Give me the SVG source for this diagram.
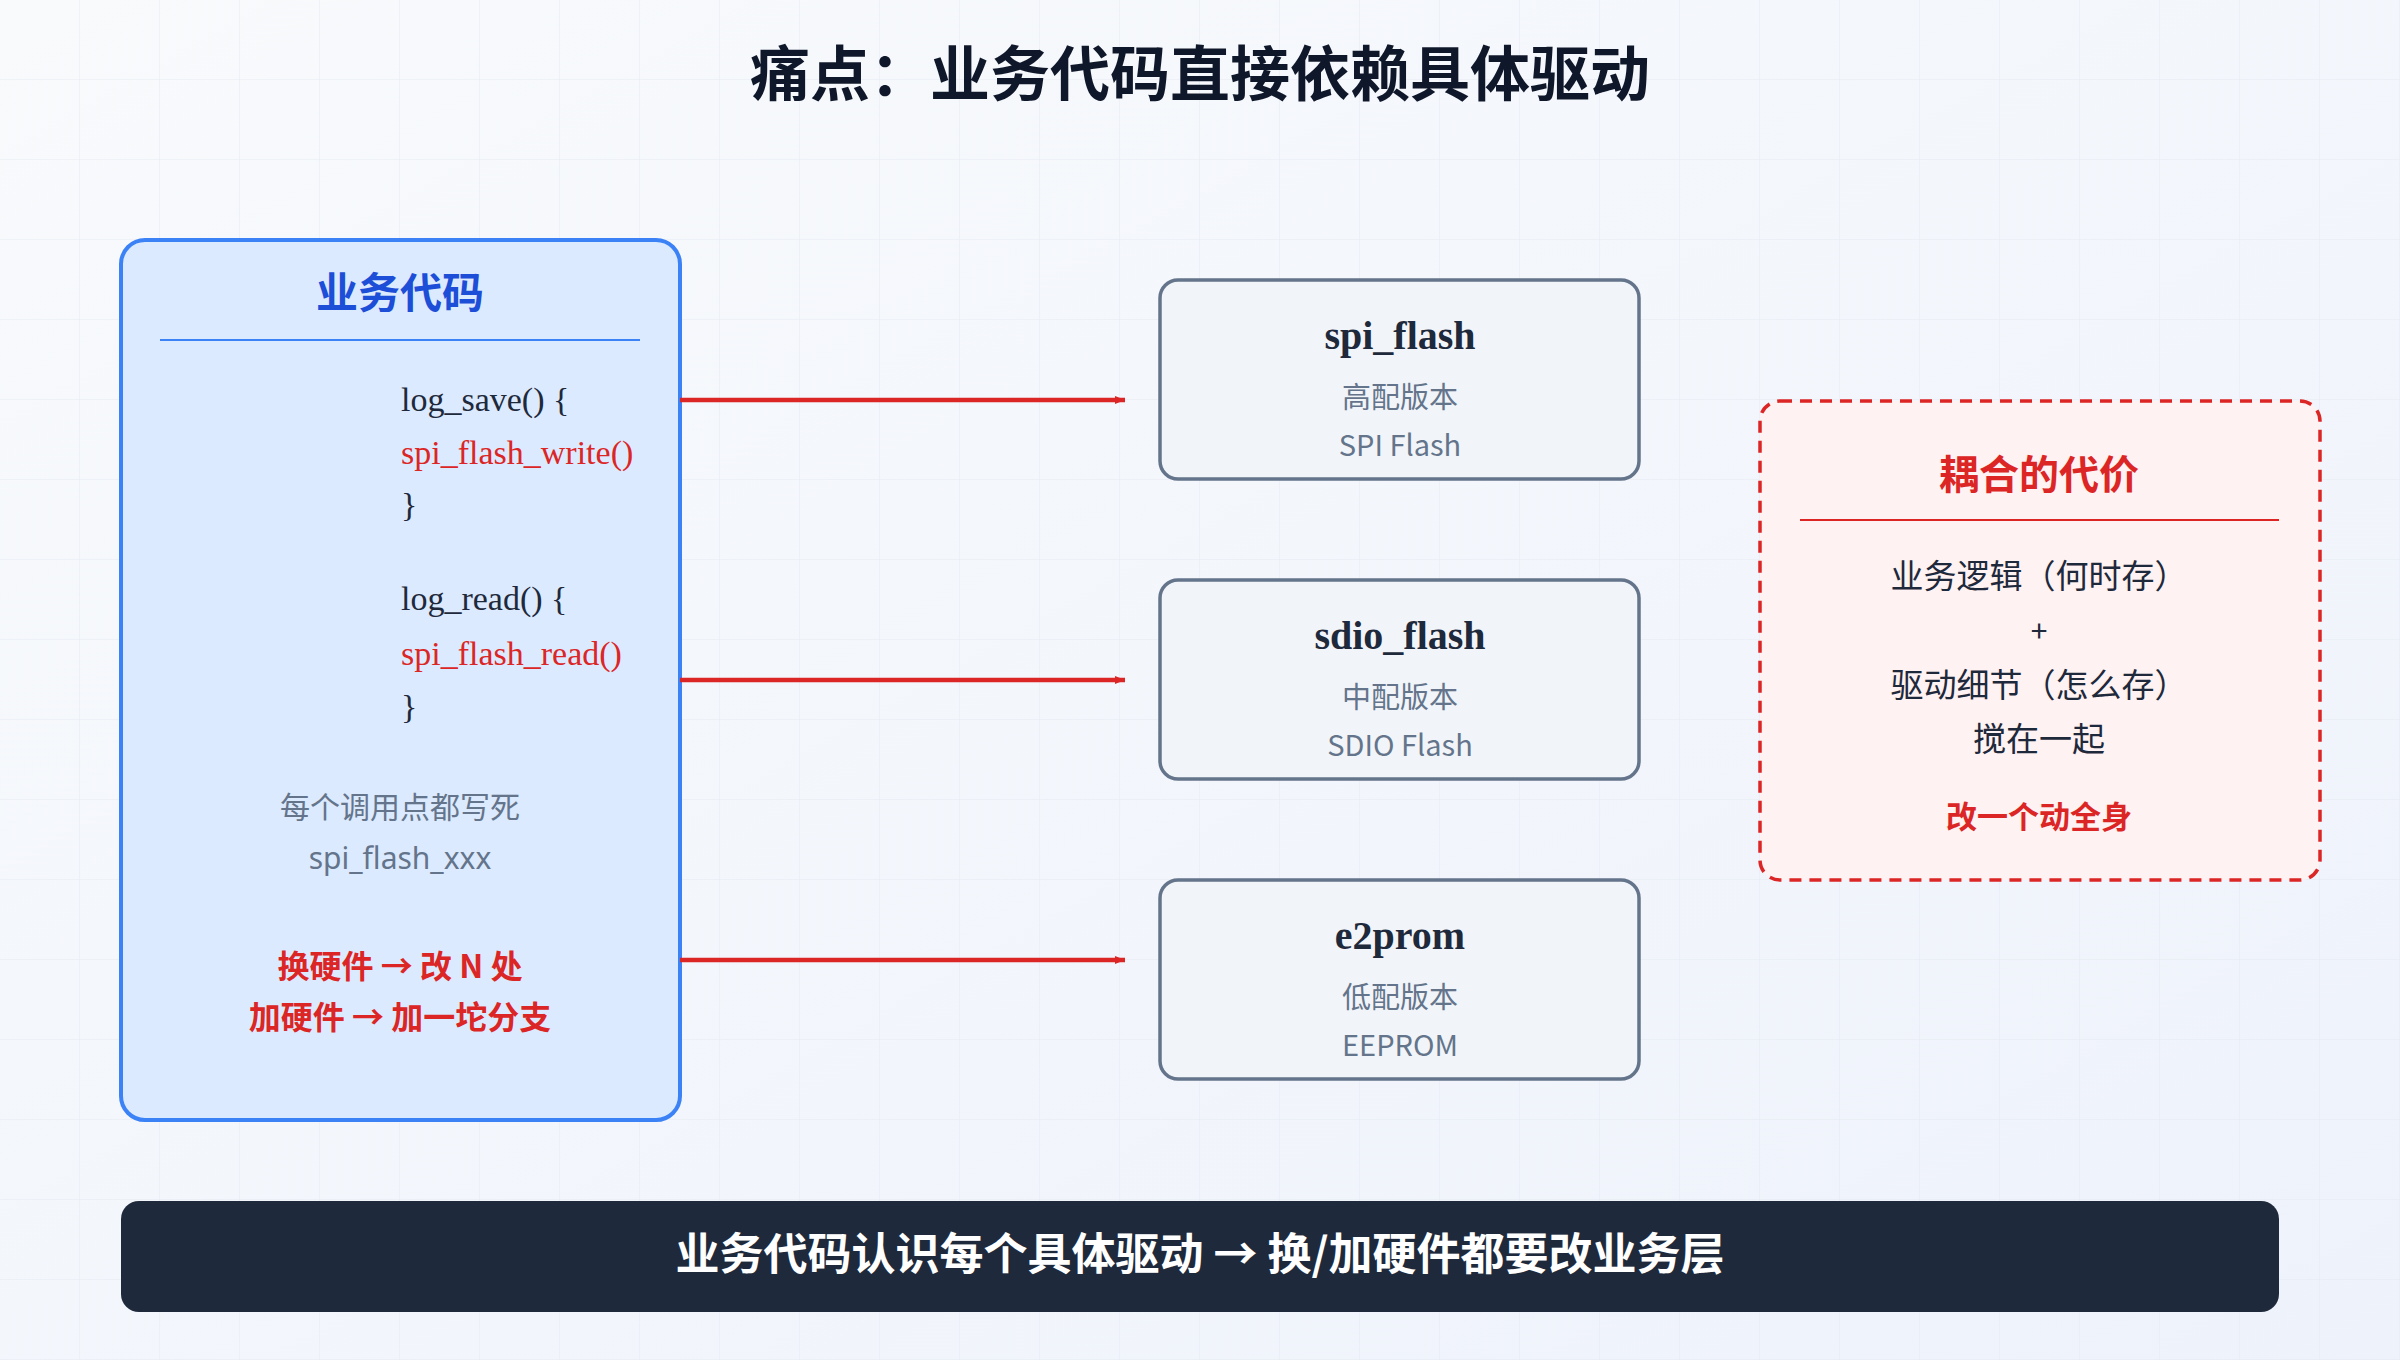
<svg xmlns="http://www.w3.org/2000/svg" width="2400" height="1360" viewBox="0 0 2400 1360">
<defs>
<linearGradient id="bg" x1="0" y1="0" x2="1" y2="1"><stop offset="0" stop-color="#f8fafc"/><stop offset="1" stop-color="#eef2fb"/></linearGradient>
<pattern id="grid" width="80" height="80" patternUnits="userSpaceOnUse"><path d="M80 0V80M0 80H80" fill="none" stroke="#e2e8f0" stroke-width="1.2" opacity="0.7"/></pattern>
<marker id="arr" markerWidth="10" markerHeight="8" refX="10" refY="4" orient="auto" markerUnits="userSpaceOnUse" viewBox="0 0 10 8"><path d="M0 0L10 4L0 8Z" fill="#dc2626"/></marker>
<style>
.cjk{font-family:"Noto Sans CJK SC","Noto Sans",sans-serif}
.serif{font-family:"Liberation Serif","Noto Serif",serif}
.sans{font-family:"Noto Sans","Noto Sans CJK SC",sans-serif}
.node rect{fill:#f1f5f9;stroke:#64748b;stroke-width:3.5}
.nt{font-family:"Liberation Serif",serif;font-weight:bold;font-size:40px;fill:#1e293b;text-anchor:middle}
.ns{font-family:"Noto Sans CJK SC","Noto Sans",sans-serif;font-size:29px;fill:#64748b;text-anchor:middle}
.code{font-family:"Liberation Serif",serif;font-size:34px;fill:#1e293b}
.red{fill:#dc2626}
.conn path{stroke:#dc2626;stroke-width:4.5;fill:none}
</style>
</defs>
<rect width="2400" height="1360" fill="url(#bg)"/>
<rect width="2400" height="1360" fill="url(#grid)"/>
<text x="1200" y="96" class="cjk" font-size="60" font-weight="bold" fill="#0f172a" text-anchor="middle">痛点：业务代码直接依赖具体驱动</text>

<g id="business">
<rect x="121" y="240" width="559" height="880" rx="24" fill="#dbeafe" stroke="#3b82f6" stroke-width="4"/>
<text x="400" y="308" class="cjk" font-size="42" font-weight="bold" fill="#1d4ed8" text-anchor="middle">业务代码</text>
<line x1="160" y1="340" x2="640" y2="340" stroke="#3b82f6" stroke-width="2"/>
<text x="401" y="411" class="code">log_save() {</text>
<text x="401" y="464" class="code red">spi_flash_write()</text>
<text x="401" y="516" class="code">}</text>
<text x="401" y="610" class="code">log_read() {</text>
<text x="401" y="665" class="code red">spi_flash_read()</text>
<text x="401" y="718" class="code">}</text>
<text x="400" y="818" class="cjk" font-size="30" fill="#64748b" text-anchor="middle">每个调用点都写死</text>
<text x="400" y="869" class="sans" font-size="30" fill="#64748b" text-anchor="middle">spi_flash_xxx</text>
<text x="400" y="978" class="cjk" font-size="32" font-weight="bold" fill="#dc2626" text-anchor="middle">换硬件 → 改 N 处</text>
<text x="400" y="1029" class="cjk" font-size="32" font-weight="bold" fill="#dc2626" text-anchor="middle">加硬件 → 加一坨分支</text>
</g>

<g id="connectors" class="conn">
<path d="M680 400H1125" marker-end="url(#arr)"/>
<path d="M680 680H1125" marker-end="url(#arr)"/>
<path d="M680 960H1125" marker-end="url(#arr)"/>
</g>
<style>#connectors marker{}</style>

<g id="spi_flash" class="node">
<rect x="1160" y="280" width="479" height="199" rx="18"/>
<text x="1400" y="349" class="nt">spi_flash</text>
<text x="1400" y="408" class="ns">高配版本</text>
<text x="1400" y="456" class="ns">SPI Flash</text>
</g>
<g id="sdio_flash" class="node">
<rect x="1160" y="580" width="479" height="199" rx="18"/>
<text x="1400" y="649" class="nt">sdio_flash</text>
<text x="1400" y="708" class="ns">中配版本</text>
<text x="1400" y="756" class="ns">SDIO Flash</text>
</g>
<g id="e2prom" class="node">
<rect x="1160" y="880" width="479" height="199" rx="18"/>
<text x="1400" y="949" class="nt">e2prom</text>
<text x="1400" y="1008" class="ns">低配版本</text>
<text x="1400" y="1056" class="ns">EEPROM</text>
</g>

<g id="cost">
<rect x="1760" y="401" width="560" height="479" rx="20" fill="#fef2f2" stroke="#dc2626" stroke-width="3.5" stroke-dasharray="12 8"/>
<text x="2039" y="489" class="cjk" font-size="40" font-weight="bold" fill="#dc2626" text-anchor="middle">耦合的代价</text>
<line x1="1800" y1="520" x2="2279" y2="520" stroke="#dc2626" stroke-width="2"/>
<text x="2039" y="588" class="cjk" font-size="33" fill="#1e293b" text-anchor="middle">业务逻辑（何时存）</text>
<text x="2039" y="642" class="cjk" font-size="30" fill="#1e293b" text-anchor="middle">+</text>
<text x="2039" y="697" class="cjk" font-size="33" fill="#1e293b" text-anchor="middle">驱动细节（怎么存）</text>
<text x="2039" y="751" class="cjk" font-size="33" fill="#1e293b" text-anchor="middle">搅在一起</text>
<text x="2039" y="828" class="cjk" font-size="31" font-weight="bold" fill="#dc2626" text-anchor="middle">改一个动全身</text>
</g>

<g id="summary">
<rect x="121" y="1201" width="2158" height="111" rx="18" fill="#1e293b"/>
<text x="1200" y="1270" class="cjk" font-size="44" font-weight="bold" fill="#ffffff" text-anchor="middle">业务代码认识每个具体驱动 → 换/加硬件都要改业务层</text>
</g>
</svg>
